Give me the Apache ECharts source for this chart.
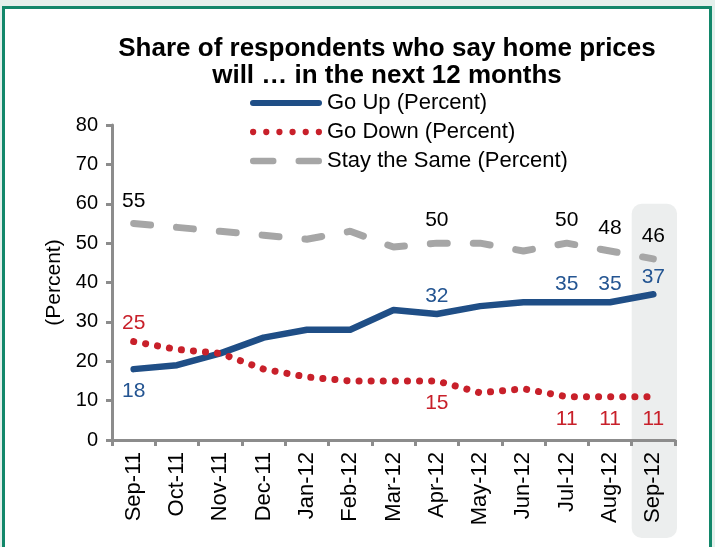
<!DOCTYPE html>
<html>
<head>
<meta charset="utf-8">
<script src="https://cdn.jsdelivr.net/npm/echarts@6/dist/echarts.min.js"></script>
<style>
html,body{margin:0;padding:0;background:#e4f0ec;}
#c{width:715px;height:547px;}
</style>
</head>
<body>
<div id="c"></div>
<script>
var categories = ['Sep-11','Oct-11','Nov-11','Dec-11','Jan-12','Feb-12','Mar-12','Apr-12','May-12','Jun-12','Jul-12','Aug-12','Sep-12'];
var goUp = [18,19,22,26,28,28,33,32,34,35,35,35,37];
var goDown = [25,23,22,18,16,15,15,15,12,13,11,11,11];
var staySame = [55,54,53,52,51,53,49,50,50,48,50,48,46];
var yTicks = [0,10,20,30,40,50,60,70,80];
// which points carry value labels, and where
var upLabels = {0:'bottom',7:'top',10:'top',11:'top',12:'top'};
var downLabels = {0:'top',7:'bottom',10:'bottom',11:'bottom',12:'bottom'};
var stayLabels = {0:'top',7:'top',10:'top',11:'top',12:'top'};

var FONT = '"Liberation Sans", Arial, sans-serif';
var BLUE = '#1f4e86', RED = '#c8202a', GREY = '#a6a6a6', AXIS = '#8c8c8c';

// legend icons (shapes only, scaled by the legend into its item box)
var ICON_SOLID = 'path://M3,0H69A3,3 0 0 1 69,6H3A3,3 0 0 1 3,0Z';
var ICON_DOTS = (function(){
  var s = 'path://';
  for (var i=0;i<6;i++){ var cx = 3 + i*12.6; s += 'M'+(cx-3)+',3a3,3 0 1,0 6,0a3,3 0 1,0 -6,0Z'; }
  return s;
})();
var ICON_DASH = 'path://M3,0H22A3,3 0 0 1 22,6H3A3,3 0 0 1 3,0Z M46,0H65A3,3 0 0 1 65,6H46A3,3 0 0 1 46,0Z';

function withLabels(values, map, color, distTop, distBottom){
  return values.map(function(v,i){
    if (map[i]) {
      return {value:v, label:{show:true, position:map[i],
        distance:(map[i]==='top'?distTop:distBottom), color:color,
        fontSize:21, fontFamily:FONT}};
    }
    return v;
  });
}

var chart = echarts.init(document.getElementById('c'), null, {renderer:'canvas'});
var option = {
  backgroundColor:'#e4f0ec',
  animation:false,
  title:{
    text:'Share of respondents who say home prices\nwill … in the next 12 months',
    left:382, top:30, textAlign:'center',
    textStyle:{fontFamily:FONT, fontSize:26, fontWeight:'bold', color:'#000', lineHeight:27}
  },
  legend:{
    orient:'vertical', left:245, top:87, itemWidth:72, itemHeight:7, itemGap:7,
    data:[
      {name:'Go Up (Percent)', icon:ICON_SOLID},
      {name:'Go Down (Percent)', icon:ICON_DOTS},
      {name:'Stay the Same (Percent)', icon:ICON_DASH}
    ],
    textStyle:{fontFamily:FONT, fontSize:22, color:'#000'},
    selectedMode:false
  },
  grid:{left:112, right:40, top:125, bottom:107, containLabel:false, outerBoundsMode:'none'},
  xAxis:{
    type:'category', data:categories, boundaryGap:true,
    axisLine:{lineStyle:{color:AXIS, width:3}},
    axisTick:{show:true, length:6, lineStyle:{color:AXIS, width:3}},
    axisLabel:{rotate:90, margin:12, fontSize:22, fontFamily:FONT, color:'#000', interval:0}
  },
  yAxis:{
    type:'value', min:yTicks[0], max:yTicks[yTicks.length-1], interval:yTicks[1]-yTicks[0],
    name:'(Percent)', nameLocation:'middle', nameGap:42, nameRotate:90,
    nameTextStyle:{fontFamily:FONT, fontSize:21, color:'#000'},
    splitLine:{show:false},
    axisLine:{show:true, lineStyle:{color:AXIS, width:3}},
    axisTick:{show:true, length:6, lineStyle:{color:AXIS, width:3}},
    axisLabel:{margin:14, fontSize:20, fontFamily:FONT, color:'#000'}
  },
  series:[
    {name:'Stay the Same (Percent)', type:'line', symbol:'circle', symbolSize:0.01, showSymbol:true, z:3,
     data:withLabels(staySame, stayLabels, '#000', 12, 12),
     lineStyle:{color:GREY, width:7, type:[17,26], cap:'round'}, itemStyle:{color:GREY}},
    {name:'Go Up (Percent)', type:'line', symbol:'circle', symbolSize:0.01, showSymbol:true, z:4,
     data:withLabels(goUp, upLabels, '#245592', 7, 12),
     lineStyle:{color:BLUE, width:6.5, cap:'round', join:'round'}, itemStyle:{color:BLUE}},
    {name:'Go Down (Percent)', type:'line', symbol:'circle', symbolSize:0.01, showSymbol:true, z:5,
     data:withLabels(goDown, downLabels, RED, 8, 12),
     lineStyle:{color:RED, width:7, type:[0.1,12], cap:'round'}, itemStyle:{color:RED}}
  ]
};
chart.setOption(option);

// Derived decorations: page frame and highlight band for the last category
var last = categories[categories.length-1];
var pc = chart.convertToPixel({xAxisIndex:0}, last);
var p0 = chart.convertToPixel({yAxisIndex:0}, 0);
var pTop = chart.convertToPixel({yAxisIndex:0}, 60);
var band = chart.getModel().getComponent('xAxis',0).axis.getBandWidth();
chart.setOption({
  graphic:[
    {type:'rect', z:-10, silent:true,
     shape:{x:3.5, y:7.5, width:707, height:600},
     style:{fill:'#ffffff', stroke:'#12876a', lineWidth:3}},
    {type:'rect', z:-5, silent:true,
     shape:{x:pc-band/2, y:pTop, width:band+2, height:(p0-pTop)+98, r:10},
     style:{fill:'#eceeee'}}
  ]
});
</script>
</body>
</html>
